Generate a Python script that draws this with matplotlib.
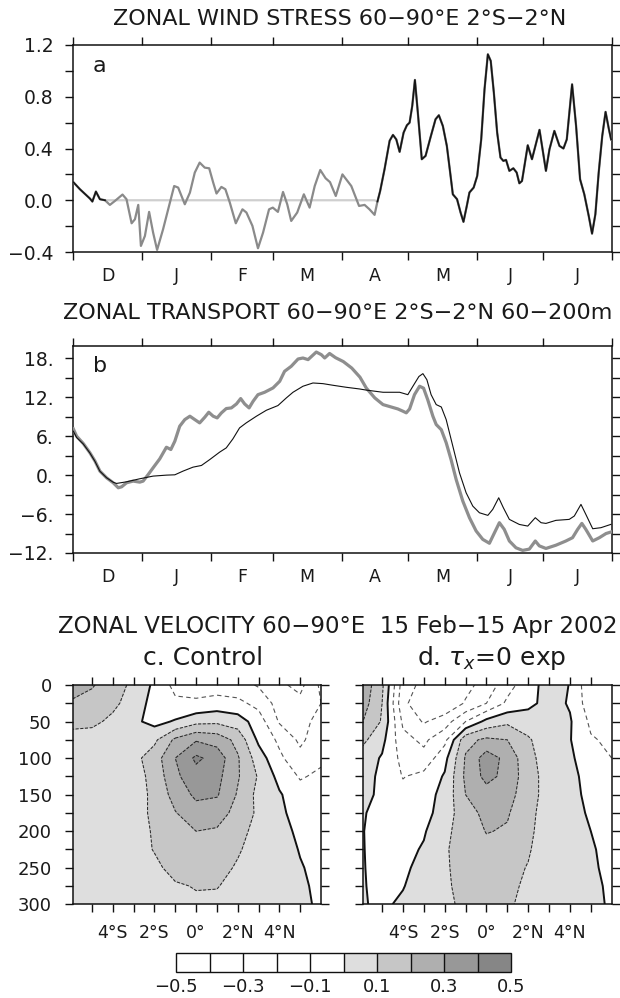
import numpy as np
import matplotlib
matplotlib.use("Agg")
import matplotlib.pyplot as plt
from matplotlib.ticker import FixedLocator, FuncFormatter

plt.rcParams['font.family'] = ['DejaVu Sans']
plt.rcParams['axes.unicode_minus'] = True
TXT = '#1a1a1a'

# ---------------- time axis: days since 1 Dec 2001 ----------------
month_starts = [0, 31, 62, 90, 121, 151, 182, 212, 243]
month_labels = ['D', 'J', 'F', 'M', 'A', 'M', 'J', 'J']

# ---------------- (a) zonal wind stress, control run ----------------
tau_day = [0, 3, 7.5, 8.6, 10.2, 12, 14.3, 16.5, 18.8, 22.2, 24, 26.3, 27.8, 29.3,
           30.5, 32.3, 34.2, 36, 37.8, 40.5, 42.8, 45.5, 47.3, 50.3, 52.6, 54.8, 57,
           59.3, 61.3, 63.1, 64.6, 66.8, 68.6, 70.6, 73.3, 76.3, 78.1, 80.8, 83.3,
           85.6, 88.3, 90, 92.3, 94.6, 96.5, 98.3, 101, 104, 106.6, 108.9, 111.4,
           113.8, 115.8, 118.4, 121.4, 125.4, 128.9, 131.4, 133.6, 135.9, 137.2,
           138.4, 140.4, 142.7, 144.2, 145.7, 147.2, 149, 150.5, 151.7, 152.9, 154.1,
           155.4, 157.2, 158.9, 161.1, 163.4, 164.9, 166.7, 168.5, 170, 171.2, 173.1,
           174.7, 176, 177.5, 178.7, 180.6, 182.2, 184, 185.5, 187, 188.3, 189.7,
           191.2, 192.7, 194, 195.2, 196.7, 198.5, 200, 201.2, 202.4, 203.5, 205,
           206.9, 210.3, 213.2, 214.8, 217, 219.3, 221.1, 222.6, 225, 226.8, 228.6,
           230.5, 232.5, 234, 235.5, 237, 238.6, 240.1, 241.6, 242.6]
tau_ctrl = [0.14, 0.085, 0.013, -0.01, 0.067, 0.008, 0.0, -0.036, -0.005, 0.044,
            0.008, -0.178, -0.147, -0.036, -0.353, -0.276, -0.09, -0.25, -0.384,
            -0.224, -0.07, 0.11, 0.098, -0.031, 0.059, 0.214, 0.291, 0.252, 0.247,
            0.137, 0.052, 0.103, 0.085, -0.018, -0.178, -0.07, -0.095, -0.198, -0.371,
            -0.25, -0.07, -0.057, -0.09, 0.064, -0.031, -0.16, -0.095, 0.046, -0.057,
            0.11, 0.234, 0.17, 0.14, 0.033, 0.2, 0.11, -0.044, -0.036, -0.07, -0.113,
            -0.01, 0.07, 0.24, 0.46, 0.505, 0.47, 0.374, 0.523, 0.58, 0.6, 0.73, 0.93,
            0.68, 0.317, 0.343, 0.484, 0.626, 0.657, 0.574, 0.42, 0.214, 0.046, 0.008,
            -0.095, -0.167, -0.044, 0.06, 0.098, 0.188, 0.47, 0.858, 1.128, 1.077,
            0.832, 0.523, 0.33, 0.304, 0.312, 0.227, 0.247, 0.214, 0.131, 0.149,
            0.265, 0.425, 0.317, 0.544, 0.227, 0.394, 0.536, 0.42, 0.4, 0.47, 0.896,
            0.574, 0.162, 0.046, -0.121, -0.258, -0.108, 0.214, 0.497, 0.683, 0.549,
            0.47]
# period over which the zonal stress is set to zero in the experiment
tau_off_start = 15.0
tau_off_end = 137.0

# ---------------- (b) zonal transport 60-200 m ----------------
trans_day_ctrl = [0, 1.5, 4.5, 7.5, 9.8, 12, 15, 18, 20.3, 21.8, 24, 27, 30, 31.5,
                  33.8, 36, 39, 42, 44, 45.8, 48, 50.3, 52.6, 54.8, 57, 59.3, 61.1,
                  63.1, 64.9, 66.8, 69, 71.3, 73.6, 75.5, 77.3, 79.3, 81.1, 83.3, 86.3,
                  90.1, 93.1, 95.3, 98.3, 101.4, 103.6, 105.9, 107.8, 109.6, 111.9,
                  113.4, 115.6, 118.3, 121.8, 125.6, 129.3, 132.2, 136, 139.7, 143.4,
                  146.4, 148.7, 150.2, 151.7, 153.9, 156.2, 158, 159.9, 162.2, 163.7,
                  166, 168.2, 170.4, 172.7, 175.7, 178.7, 181.7, 184.7, 187.7, 190,
                  192.2, 194.4, 196.7, 199.7, 202.7, 205.7, 208.4, 210.2, 213.2, 217.7,
                  222.2, 225.2, 227.5, 229.4, 231.2, 234.3, 237.3, 240.3, 242.5]
trans_ctrl = [7.13, 6.0, 4.87, 3.44, 2.15, 0.62, -0.41, -1.18, -1.95, -1.8, -1.18,
              -0.92, -1.08, -0.92, 0.1, 1.13, 2.51, 4.3, 3.95, 5.23, 7.54, 8.56, 9.08,
              8.56, 8.05, 8.92, 9.69, 9.08, 8.82, 9.59, 10.26, 10.36, 10.97, 11.8,
              10.97, 10.36, 11.38, 12.4, 12.77, 13.44, 14.46, 16.0, 16.77, 17.9, 18.05,
              17.8, 18.4, 18.97, 18.56, 18.05, 18.75, 18.1, 17.5, 16.5, 15.1, 13.4,
              11.9, 10.87, 10.5, 10.2, 9.85, 9.6, 10.2, 12.4, 13.7, 13.4, 11.6, 9.08,
              7.8, 7.0, 5.0, 2.4, -0.67, -4.0, -6.56, -8.6, -9.9, -10.5, -8.87, -7.33,
              -8.36, -10.15, -11.2, -11.6, -11.4, -10.15, -10.9, -11.3, -10.8, -10.15,
              -9.64, -8.36, -7.44, -8.36, -10.15, -9.64, -9.0, -8.77]
trans_day_exp = [0, 1.5, 4.5, 7.5, 9.8, 12, 15, 18, 19.5, 24, 30, 36, 42, 45.8, 49.5,
                 54, 57.8, 61.6, 66, 69, 72, 75, 78, 82.6, 87.1, 92.3, 96.1, 99.1,
                 103.6, 108.1, 112.6, 117.1, 123.1, 129.1, 132.2, 139.7, 147.2, 150.9,
                 153.2, 155.9, 157.7, 159.5, 161.4, 163.7, 166, 168.2, 171.2, 174.2,
                 177.2, 180.2, 183.2, 187, 189.2, 191.9, 194, 196.7, 201.2, 205, 208.4,
                 211, 213.2, 217.7, 223.7, 226, 229, 231.2, 234.3, 238, 242.5]
trans_exp = [6.77, 5.8, 4.8, 3.4, 2.1, 0.6, -0.4, -1.1, -1.28, -1.03, -0.56, -0.15,
             0.0, 0.05, 0.62, 1.23, 1.49, 2.41, 3.54, 4.2, 5.59, 7.28, 8.05, 9.08, 10.0,
             10.72, 11.9, 12.77, 13.7, 14.2, 14.1, 13.85, 13.54, 13.28, 13.1, 12.77,
             12.77, 12.4, 13.7, 15.2, 15.64, 14.7, 12.4, 10.87, 10.5, 8.56, 4.46, 0.36,
             -2.72, -4.77, -5.8, -6.2, -5.28, -3.49, -5.03, -6.82, -7.6, -7.85, -6.56,
             -7.33, -7.44, -6.97, -6.82, -6.3, -4.51, -6.05, -8.26, -8.1, -7.59]

# ---------------- (c),(d) zonal velocity, 15 Feb - 15 Apr 2002 ----------------
lat = [-6, -5, -4, -3, -2, -1, 0, 1, 2, 3, 4, 5, 6]
depth = [0, 25, 50, 75, 100, 125, 150, 175, 200, 225, 250, 275, 300]
u_control = [
    [0.28, 0.21, 0.14, 0.08, -0.02, -0.13, -0.14, -0.15, -0.16, -0.21, -0.28, -0.33, -0.18],
    [0.18, 0.16, 0.12, 0.06, -0.04, -0.08, -0.085, -0.06, -0.075, -0.13, -0.24, -0.27, -0.20],
    [0.13, 0.12, 0.08, 0.02, -0.03, 0.01, 0.07, 0.08, 0.05, -0.05, -0.21, -0.25, -0.15],
    [0.06, 0.06, 0.05, 0.04, 0.08, 0.22, 0.29, 0.26, 0.17, -0.02, -0.12, -0.22, -0.14],
    [0.06, 0.06, 0.06, 0.07, 0.15, 0.30, 0.42, 0.36, 0.21, 0.05, -0.08, -0.17, -0.12],
    [0.06, 0.06, 0.06, 0.06, 0.13, 0.28, 0.36, 0.33, 0.21, 0.09, -0.03, -0.11, -0.08],
    [0.06, 0.06, 0.06, 0.06, 0.12, 0.24, 0.32, 0.31, 0.19, 0.07, 0.01, -0.06, -0.05],
    [0.06, 0.06, 0.06, 0.06, 0.12, 0.195, 0.26, 0.24, 0.17, 0.08, 0.02, -0.04, -0.04],
    [0.06, 0.06, 0.06, 0.06, 0.11, 0.16, 0.20, 0.19, 0.14, 0.06, 0.025, -0.015, -0.04],
    [0.06, 0.06, 0.06, 0.06, 0.105, 0.14, 0.16, 0.15, 0.11, 0.06, 0.04, -0.005, -0.03],
    [0.06, 0.06, 0.06, 0.06, 0.08, 0.13, 0.14, 0.13, 0.09, 0.06, 0.05, 0.006, -0.024],
    [0.06, 0.06, 0.06, 0.06, 0.07, 0.09, 0.105, 0.103, 0.08, 0.06, 0.05, 0.015, -0.02],
    [0.06, 0.06, 0.06, 0.06, 0.07, 0.08, 0.085, 0.085, 0.07, 0.06, 0.05, 0.02, -0.015],
]
u_no_stress = [
    [0.28, 0.12, -0.25, -0.33, -0.36, -0.33, -0.26, -0.14, -0.04, 0.04, -0.003, -0.18, -0.15],
    [0.26, 0.10, -0.28, -0.36, -0.38, -0.29, -0.20, -0.08, -0.03, 0.04, -0.01, -0.16, -0.14],
    [0.21, 0.09, -0.22, -0.31, -0.25, -0.10, 0.03, 0.08, 0.06, 0.06, 0.01, -0.12, -0.15],
    [0.13, 0.03, -0.17, -0.22, -0.13, 0.17, 0.22, 0.20, 0.11, 0.05, 0.005, -0.09, -0.12],
    [0.06, -0.01, -0.13, -0.17, -0.03, 0.21, 0.35, 0.27, 0.13, 0.05, 0.02, -0.07, -0.10],
    [0.04, -0.02, -0.105, -0.07, 0.01, 0.22, 0.33, 0.27, 0.14, 0.06, 0.03, -0.04, -0.07],
    [0.03, -0.02, -0.07, -0.04, 0.03, 0.20, 0.26, 0.24, 0.14, 0.06, 0.035, -0.03, -0.05],
    [0.01, -0.03, -0.05, -0.03, 0.04, 0.17, 0.22, 0.21, 0.13, 0.05, 0.04, -0.015, -0.04],
    [0.005, -0.03, -0.04, -0.01, 0.08, 0.14, 0.205, 0.19, 0.12, 0.05, 0.04, 0.0, -0.03],
    [0.005, -0.025, -0.03, 0.01, 0.09, 0.14, 0.17, 0.16, 0.11, 0.04, 0.04, 0.01, -0.03],
    [0.005, -0.02, -0.015, 0.025, 0.09, 0.13, 0.15, 0.13, 0.095, 0.04, 0.035, 0.015, -0.025],
    [0.005, -0.015, -0.003, 0.03, 0.09, 0.12, 0.135, 0.12, 0.085, 0.04, 0.03, 0.02, -0.015],
    [0.005, -0.01, 0.01, 0.035, 0.085, 0.115, 0.125, 0.11, 0.08, 0.04, 0.03, 0.02, -0.01],
]
shade_levels = [-0.5, -0.4, -0.3, -0.2, -0.1, 0.0, 0.1, 0.2, 0.3, 0.4, 0.5]
shade_colors = ['white', 'white', 'white', 'white', 'white',
                '#dedede', '#c6c6c6', '#afafaf', '#989898', '#868686']
cbar_ticks = [-0.5, -0.3, -0.1, 0.1, 0.3, 0.5]
lat_ticks = [-4, -2, 0, 2, 4]

# ---------------- figure ----------------
W, H = 620, 998
fig = plt.figure(figsize=(W / 100, H / 100), dpi=100)


def frac(left, top, right, bottom):
    return [left / W, 1 - bottom / H, (right - left) / W, (bottom - top) / H]


def minus(s):
    return s.replace('-', '\u2212')


def style_axes(ax):
    for sp in ax.spines.values():
        sp.set_linewidth(1.1)
        sp.set_color('#111111')
    ax.tick_params(which='major', direction='out', length=5.5, width=1.0,
                   top=True, right=True, color='#111111', labelcolor=TXT,
                   labelsize=12.5)


def time_axes(ax):
    ax.set_xlim(0, 243)
    ax.xaxis.set_major_locator(FixedLocator(month_starts))
    ax.xaxis.set_major_formatter(FuncFormatter(lambda v, p: ''))
    mids = [(a + b) / 2 for a, b in zip(month_starts[:-1], month_starts[1:])]
    ax.xaxis.set_minor_locator(FixedLocator(mids))
    ax.xaxis.set_minor_formatter(FuncFormatter(lambda v, p: month_labels[p]))
    ax.tick_params(axis='x', which='minor', length=0, pad=10.5,
                   labelsize=12.5, labelcolor=TXT)
    ax.tick_params(axis='y', pad=9, labelsize=13.5)


# ---- panel a ----
axa = fig.add_axes(frac(73.3, 45, 612, 252))
style_axes(axa)
time_axes(axa)
td = np.array(tau_day)
tc = np.array(tau_ctrl)
off = (td > tau_off_start) & (td < tau_off_end)
tau_exp = np.where(off, 0.0, tc)
axa.plot(td, tau_exp, color='#cfcfcf', lw=1.6, zorder=2)
axa.plot(td, tc, color='#8a8a8a', lw=1.6, zorder=3)
axa.plot(td, np.where(off, np.nan, tau_exp), color='#151515', lw=1.2, zorder=4)
axa.set_ylim(-0.4, 1.2)
axa.yaxis.set_major_locator(FixedLocator(np.arange(-0.4, 1.21, 0.2)))
axa.yaxis.set_major_formatter(FuncFormatter(
    lambda v, p: minus(f'{v:.1f}') if p % 2 == 0 else ''))
axa.text(0.036, 0.9, 'a', transform=axa.transAxes, fontsize=16, color=TXT,
         va='center', ha='left')
fig.text(340 / W, 1 - 19 / H, 'ZONAL WIND STRESS 60\u221290\u00b0E 2\u00b0S\u22122\u00b0N',
         ha='center', va='center', fontsize=16, color=TXT)

# ---- panel b ----
axb = fig.add_axes(frac(73.3, 346, 612, 553))
style_axes(axb)
time_axes(axb)
axb.plot(trans_day_ctrl, trans_ctrl, color='#8e8e8e', lw=2.3, zorder=3)
axb.plot(trans_day_exp, trans_exp, color='#111111', lw=0.8, zorder=4)
axb.set_ylim(-12, 19.9)
axb.yaxis.set_major_locator(FixedLocator(np.arange(-12, 19, 3)))
axb.yaxis.set_major_formatter(FuncFormatter(
    lambda v, p: minus(f'{int(round(v))}.') if p % 2 == 0 else ''))
axb.text(0.036, 0.905, 'b', transform=axb.transAxes, fontsize=16, color=TXT,
         va='center', ha='left')
fig.text(338 / W, 1 - 313 / H,
         'ZONAL TRANSPORT 60\u221290\u00b0E 2\u00b0S\u22122\u00b0N 60\u2212200m',
         ha='center', va='center', fontsize=16, color=TXT)


# ---- panels c, d ----
def lat_label(v):
    v = int(round(v))
    if v == 0:
        return '0\u00b0'
    return f'{abs(v)}\u00b0' + ('S' if v < 0 else 'N')


def velocity_panel(rect, field, show_depth):
    ax = fig.add_axes(rect)
    u = np.array(field)
    cf = ax.contourf(lat, depth, u, levels=shade_levels, colors=shade_colors)
    neg = ax.contour(lat, depth, u, levels=[l for l in shade_levels if -0.5 < l < 0],
                     colors='#555555', linewidths=0.8)
    neg.set_linestyle((0, (4, 3)))
    pos = ax.contour(lat, depth, u, levels=[l for l in shade_levels if 0 < l < 0.5],
                     colors='#2a2a2a', linewidths=0.75)
    pos.set_linestyle((0, (3, 1.5)))
    ax.contour(lat, depth, u, levels=[0.0], colors='#111111', linewidths=1.4)
    ax.set_xlim(-5.9, 6.0)
    ax.set_ylim(300, 0)
    style_axes(ax)
    ax.xaxis.set_major_locator(FixedLocator(range(-5, 6)))
    ax.xaxis.set_major_formatter(FuncFormatter(
        lambda v, p: lat_label(v) if int(round(v)) in lat_ticks else ''))
    ax.yaxis.set_major_locator(FixedLocator(range(0, 301, 25)))
    ax.yaxis.set_major_formatter(FuncFormatter(
        lambda v, p: f'{int(v)}' if (show_depth and int(v) % 50 == 0) else ''))
    ax.tick_params(axis='x', pad=9, labelsize=12.5)
    ax.tick_params(axis='y', pad=10, labelsize=13)
    return ax, cf


axc, cf = velocity_panel(frac(73.3, 685, 321, 904.3), u_control, True)
axd, _ = velocity_panel(frac(363.3, 685, 611.7, 904.3), u_no_stress, False)

fig.text(338 / W, 1 - 626 / H,
         'ZONAL VELOCITY 60\u221290\u00b0E  15 Feb\u221215 Apr 2002',
         ha='center', va='center', fontsize=16.5, color=TXT)
fig.text(203 / W, 1 - 658 / H, 'c. Control', ha='center', va='center',
         fontsize=18, color=TXT)
fig.text(492 / W, 1 - 658 / H, r'd. $\tau_x$=0 exp', ha='center', va='center',
         fontsize=18, color=TXT)

cax = fig.add_axes(frac(176, 952.5, 511, 972.3))
cb = fig.colorbar(cf, cax=cax, orientation='horizontal', drawedges=True,
                  ticks=cbar_ticks)
cb.outline.set_linewidth(1.0)
cb.outline.set_edgecolor('#111111')
cb.dividers.set_color('#111111')
cb.dividers.set_linewidth(1.0)
cax.xaxis.set_major_formatter(FuncFormatter(lambda v, p: minus(f'{v:.1f}')))
cax.tick_params(length=0, pad=4, labelsize=13, labelcolor=TXT)

fig.savefig('out.png', dpi=100)
